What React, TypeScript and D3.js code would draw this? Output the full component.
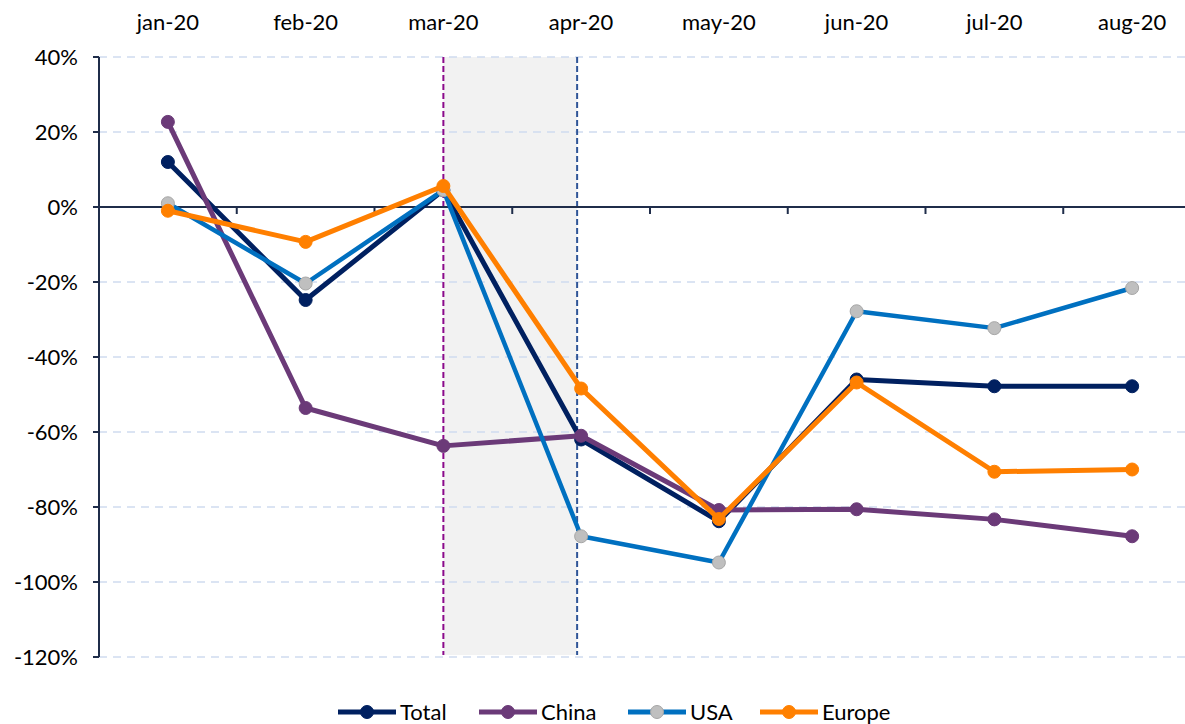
import React from "react";
import * as d3 from "d3";

const months = ["jan-20", "feb-20", "mar-20", "apr-20", "may-20", "jun-20", "jul-20", "aug-20"];
const total = [12, -24.8, 4.5, -62, -83.8, -46, -47.8, -47.8];
const china = [22.7, -53.6, -63.7, -61, -80.8, -80.6, -83.3, -87.8];
const usa = [1, -20.4, 4.5, -87.8, -94.8, -27.8, -32.3, -21.6];
const europe = [-1, -9.3, 5.6, -48.4, -83.2, -46.8, -70.6, -70];
const yTicks = [40, 20, 0, -20, -40, -60, -80, -100, -120];

const series = [
  { name: "Total", values: total, color: "#002060", marker: "#002060", mstroke: "#002060", width: 5 },
  { name: "China", values: china, color: "#6b3a78", marker: "#6b3a78", mstroke: "#6b3a78", width: 5 },
  { name: "USA", values: usa, color: "#0070c0", marker: "#bfbfbf", mstroke: "#a6a6a6", width: 4.5 },
  { name: "Europe", values: europe, color: "#ff7f00", marker: "#ff8000", mstroke: "#ff8000", width: 5 },
];

const W = 1185;
const H = 724;
const left = 99;
const right = 1201;
const top = 57;
const bottom = 657;
const font = "Lato, 'Open Sans', sans-serif";

export default function App() {
  const x = d3.scalePoint<string>().domain(months).range([left, right]).padding(0.5);
  const y = d3.scaleLinear().domain([-120, 40]).range([bottom, top]);
  const step = x.step();
  const line = d3
    .line<number>()
    .x((_, i) => x(months[i])!)
    .y((d) => y(d));

  const xMar = x("mar-20")!;
  const xApr = x("apr-20")! - 4;

  // legend: start of line segment for each entry
  const legendX = [338, 479, 628, 760];

  return (
    <svg width={W} height={H} style={{ position: "absolute", left: 0, top: 0, background: "#fff" }}>
      {/* shaded period */}
      <rect x={xMar} y={top} width={xApr - xMar} height={bottom - top - 2} fill="#f2f2f2" />

      {/* gridlines */}
      {yTicks.map((t) => (
        <line
          key={t}
          x1={left}
          x2={W}
          y1={y(t)}
          y2={y(t)}
          stroke="#cfdcf0"
          strokeWidth={1.5}
          strokeDasharray="8,6"
        />
      ))}

      {/* vertical markers */}
      <line x1={xMar} x2={xMar} y1={top} y2={bottom - 2} stroke="#8b0a8b" strokeWidth={2} strokeDasharray="6,3" />
      <line x1={xApr} x2={xApr} y1={top} y2={bottom - 2} stroke="#2f5597" strokeWidth={2} strokeDasharray="6,3" />

      {/* y axis */}
      <line x1={left} x2={left} y1={top} y2={bottom} stroke="#1f2d4a" strokeWidth={2} />
      {yTicks.map((t) => (
        <g key={t}>
          <line x1={left - 6} x2={left} y1={y(t)} y2={y(t)} stroke="#1f2d4a" strokeWidth={2} />
          <text
            x={left - 21}
            y={y(t)}
            dy="0.35em"
            textAnchor="end"
            fontFamily={font}
            fontSize={22}
            fill="#000"
          >
            {t}%
          </text>
        </g>
      ))}

      {/* x axis at zero */}
      <line x1={left} x2={W} y1={y(0)} y2={y(0)} stroke="#1f2d4a" strokeWidth={2} />
      {months.slice(1).map((m) => (
        <line
          key={m}
          x1={x(m)! - step / 2}
          x2={x(m)! - step / 2}
          y1={y(0)}
          y2={y(0) + 7}
          stroke="#1f2d4a"
          strokeWidth={2}
        />
      ))}
      {months.map((m) => (
        <text key={m} x={x(m)!} y={30} textAnchor="middle" fontFamily={font} fontSize={22} fill="#000">
          {m}
        </text>
      ))}

      {/* series */}
      {series.map((s) => (
        <g key={s.name}>
          <path d={line(s.values)!} fill="none" stroke={s.color} strokeWidth={s.width} strokeLinejoin="round" />
          {s.values.map((v, i) => (
            <circle
              key={i}
              cx={x(months[i])!}
              cy={y(v)}
              r={6.5}
              fill={s.marker}
              stroke={s.mstroke}
              strokeWidth={1}
            />
          ))}
        </g>
      ))}

      {/* legend */}
      {series.map((s, i) => (
        <g key={s.name}>
          <line x1={legendX[i]} x2={legendX[i] + 58} y1={712} y2={712} stroke={s.color} strokeWidth={5} />
          <circle cx={legendX[i] + 29} cy={712} r={6.5} fill={s.marker} stroke={s.mstroke} strokeWidth={1} />
          <text x={legendX[i] + 62} y={712} dy="0.35em" fontFamily={font} fontSize={22} fill="#000">
            {s.name}
          </text>
        </g>
      ))}
    </svg>
  );
}
